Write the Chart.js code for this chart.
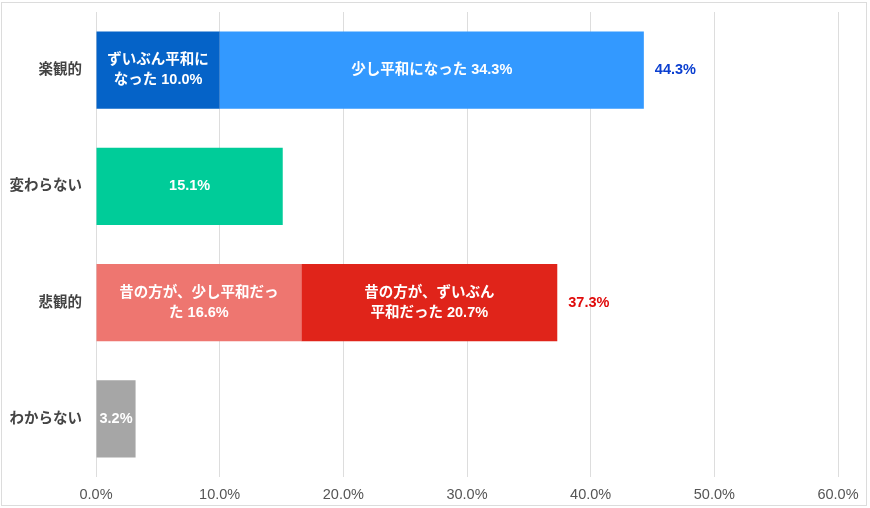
<!DOCTYPE html>
<html><head><meta charset="utf-8">
<script src="https://cdn.jsdelivr.net/npm/chart.js@4"></script>
<style>
html,body{margin:0;padding:0;background:#fff;}
#wrap{position:relative;width:870px;height:508px;}
#frame{position:absolute;left:1px;top:2px;width:866px;height:504px;border:1px solid #dcdcdc;box-sizing:border-box;pointer-events:none;}
canvas{position:absolute;left:0;top:0;}
</style></head>
<body>
<div id="wrap"><canvas id="c" width="870" height="508"></canvas><div id="frame"></div></div>
<script>
const categories = ['楽観的', '変わらない', '悲観的', 'わからない'];
const seriesNames = ['ずいぶん平和になった', '少し平和になった', '変わらない', '昔の方が、少し平和だった', '昔の方が、ずいぶん平和だった', 'わからない'];
const valMuchPeaceful = [10.0, null, null, null];
const valLittlePeaceful = [34.3, null, null, null];
const valNoChange = [null, 15.1, null, null];
const valPastLittle = [null, null, 16.6, null];
const valPastMuch = [null, null, 20.7, null];
const valUnknown = [null, null, null, 3.2];
const segmentLabels = [
  [['ずいぶん平和に', 'なった 10.0%'], null, null, null],
  [['少し平和になった 34.3%'], null, null, null],
  [null, ['15.1%'], null, null],
  [null, null, ['昔の方が、少し平和だっ', 'た 16.6%'], null],
  [null, null, ['昔の方が、ずいぶん', '平和だった 20.7%'], null],
  [null, null, null, ['3.2%']]
];
const totalLabels = ['44.3%', null, '37.3%', null];
const xTicks = [0, 10, 20, 30, 40, 50, 60];

const colors = ['#0563c8', '#3399ff', '#00cc99', '#ee7670', '#e0241a', '#a6a6a6'];
const totalColors = ['#0b3fd0', null, '#e00b0b', null];
const FONT = "'Liberation Sans','Noto Sans CJK JP',sans-serif";

const seriesValues = [valMuchPeaceful, valLittlePeaceful, valNoChange, valPastLittle, valPastMuch, valUnknown];

const labelPlugin = {
  id: 'labels',
  afterDatasetsDraw(chart) {
    const ctx = chart.ctx;
    ctx.save();
    ctx.font = "bold 14.5px " + FONT;
    ctx.textBaseline = 'middle';
    chart.data.datasets.forEach((ds, di) => {
      const meta = chart.getDatasetMeta(di);
      meta.data.forEach((bar, i) => {
        const lines = segmentLabels[di][i];
        if (!lines || ds.data[i] == null) return;
        const cx = (bar.x + bar.base) / 2;
        const lh = 20;
        ctx.fillStyle = '#ffffff';
        ctx.textAlign = 'center';
        lines.forEach((t, k) => {
          ctx.fillText(t, cx, bar.y + (k - (lines.length - 1) / 2) * lh);
        });
      });
    });
    const xs = chart.scales.x;
    categories.forEach((c, i) => {
      if (!totalLabels[i]) return;
      let sum = 0;
      seriesValues.forEach(s => { if (s[i] != null) sum += s[i]; });
      const y = chart.getDatasetMeta(0).data[i].y;
      ctx.fillStyle = totalColors[i];
      ctx.textAlign = 'left';
      ctx.fillText(totalLabels[i], xs.getPixelForValue(sum) + 11, y);
    });
    ctx.restore();
  }
};

new Chart(document.getElementById('c'), {
  type: 'bar',
  data: {
    labels: categories,
    datasets: seriesNames.map((n, k) => ({
      label: n,
      data: seriesValues[k],
      backgroundColor: colors[k],
      borderWidth: 0,
      barPercentage: 0.665,
      categoryPercentage: 1.0
    }))
  },
  options: {
    indexAxis: 'y',
    responsive: false,
    animation: false,
    devicePixelRatio: 1,
    layout: { padding: { top: 12, right: 32, left: 0, bottom: 0 } },
    plugins: { legend: { display: false }, tooltip: { enabled: false } },
    scales: {
      x: {
        stacked: true,
        min: 0, max: 60,
        afterBuildTicks(s) { s.ticks = xTicks.map(v => ({ value: v })); },
        afterFit(s) { s.height = 31; s.paddingLeft = 0; s.paddingRight = 0; },
        grid: { color: '#dddddd', lineWidth: 1, drawTicks: false },
        border: { display: false },
        ticks: { padding: 9, color: '#555555', font: { family: FONT, size: 14.5 },
          callback: v => Number(v).toFixed(1) + '%' }
      },
      y: {
        stacked: true,
        afterFit(s) { s.width = 96; s.paddingTop = 0; s.paddingBottom = 0; },
        grid: { display: false, drawTicks: false },
        border: { display: false },
        ticks: { padding: 14, color: '#444444', font: { family: FONT, size: 14.5, weight: 'bold' } }
      }
    }
  },
  plugins: [labelPlugin]
});
</script>
</body></html>
